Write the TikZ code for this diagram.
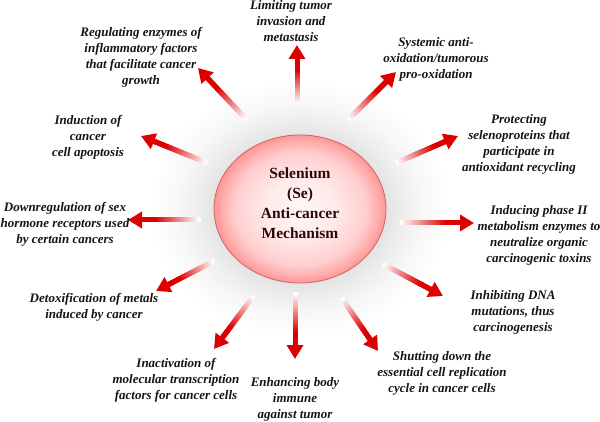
\documentclass[tikz,border=0pt]{standalone}
\usepackage{fontspec}
\setmainfont{Liberation Serif}
\usetikzlibrary{arrows.meta, shapes.geometric, calc}

\definecolor{rayred}{RGB}{220,0,0}
\definecolor{ballrim}{RGB}{205,100,100}
\definecolor{titleink}{RGB}{45,8,8}
\definecolor{labelink}{RGB}{20,20,20}

% soft grey glow round the ball, and the ball itself (path border sits at 25bp)
\pgfdeclareradialshading{halo}{\pgfpoint{0bp}{0bp}}{color(0bp)=(black!12); color(14.3bp)=(black!11); color(17bp)=(black!7); color(20.5bp)=(black!3); color(25bp)=(white); color(50bp)=(white)}
\pgfdeclareradialshading{seball}{\pgfpoint{0bp}{0bp}}{color(0bp)=(red!3); color(10bp)=(red!8); color(19bp)=(red!19); color(23.5bp)=(red!35); color(25bp)=(red!42); color(50bp)=(red!42)}

% fading ray from tail to tip
\newcommand{\selray}[2]{%
  \coordinate (neck) at ($(#2)!12pt!(#1)$);
  \foreach \k in {0,...,23}{%
    \pgfmathsetmacro{\mixv}{min(100,\k*100/18)}
    \draw[rayshaft, rayred!\mixv!white] ($(#1)!\k/24!(neck)$) -- ($(#1)!\k/24+1/24!(neck)$);
  }
  \draw[rayhead] ($(#2)!16pt!(#1)$) -- (#2);
}

\begin{document}
\begin{tikzpicture}[
        x=1pt, y=-1pt,
        note/.style={align=center, inner sep=0pt, text=labelink, font=\fontsize{13}{16}\selectfont\bfseries\itshape},
        title/.style={align=center, inner sep=0pt, text=titleink, font=\fontsize{15.5}{20}\selectfont\bfseries},
        ballshape/.style={ellipse, minimum width=172pt, minimum height=148pt, inner sep=0pt, shading=seball, draw=ballrim, line width=0.8pt},
        rayshaft/.style={line width=5pt, line cap=rect},
        rayhead/.style={rayred, line width=5pt, -{Triangle[length=14pt, width=16pt]}}
    ]
    \fill[white] (0,0) rectangle (600,422);
    \useasboundingbox (0,0) rectangle (600,422);

    \coordinate (core) at (300,209);
    \shade[shading=halo] (core) ellipse [x radius=150, y radius=129];

    % ray ends
    \coordinate (s1) at (297,102);  \coordinate (e1) at (297,45);
    \coordinate (s2) at (245,118);  \coordinate (e2) at (198,68);
    \coordinate (s3) at (350,118);  \coordinate (e3) at (396,72);
    \coordinate (s4) at (205,162);  \coordinate (e4) at (141,136);
    \coordinate (s5) at (398,162);  \coordinate (e5) at (458,136);
    \coordinate (s6) at (198,220);  \coordinate (e6) at (128,220);
    \coordinate (s7) at (402,223);  \coordinate (e7) at (474,223);
    \coordinate (s8) at (212,262);  \coordinate (e8) at (156,291);
    \coordinate (s9) at (385,265);  \coordinate (e9) at (443,296);
    \coordinate (s10) at (252,298); \coordinate (e10) at (214,349);
    \coordinate (s11) at (295,295); \coordinate (e11) at (295,359);
    \coordinate (s12) at (343,300); \coordinate (e12) at (378,351);

    \foreach \i in {1,...,12}{\selray{s\i}{e\i}}

    \node[ballshape] (ball) at (core) {};
    \node[title] (Title) at (300,203) {Selenium\\(Se)\\Anti-cancer\\Mechanism};

    \node[note] (limit) at (291,21) {Limiting tumor\\invasion and\\metastasis};
    \node[note] (inflam) at (141,57) {Regulating enzymes of\\inflammatory factors\\that facilitate cancer\\growth};
    \node[note] (oxid) at (436,59) {Systemic anti-\\oxidation/tumorous\\pro-oxidation};
    \node[note] (apopt) at (88,137) {Induction of\\cancer\\cell apoptosis};
    \node[note] (protect) at (519,144) {Protecting\\selenoproteins that\\participate in\\antioxidant recycling};
    \node[note] (hormone) at (65,224) {Downregulation of sex\\hormone receptors used\\by certain cancers};
    \node[note] (phase) at (539,235) {Inducing phase II\\metabolism enzymes to\\neutralize organic\\carcinogenic toxins};
    \node[note] (detox) at (94,307) {Detoxification of metals\\induced by cancer};
    \node[note] (dna) at (513,312) {Inhibiting DNA\\mutations, thus\\carcinogenesis};
    \node[note] (transc) at (176,380) {Inactivation of\\molecular transcription\\factors for cancer cells};
    \node[note] (immune) at (295,399) {Enhancing body\\immune\\against tumor};
    \node[note] (cycle) at (442,373) {Shutting down the\\essential cell replication\\cycle in cancer cells};

\end{tikzpicture}
\end{document}
